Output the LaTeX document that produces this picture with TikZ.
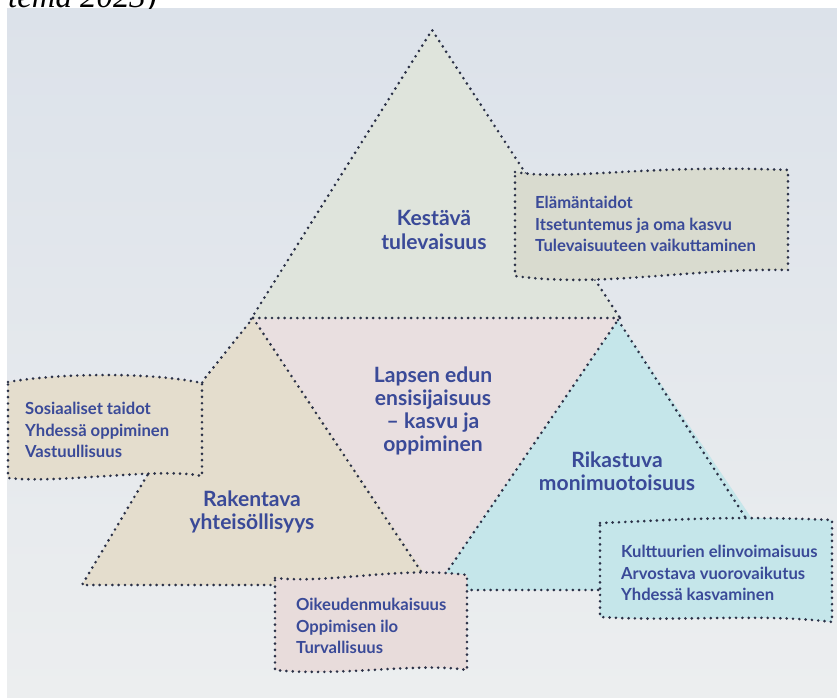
\documentclass[tikz,border=0pt]{standalone}
\usepackage{fontspec}
\setmainfont{Lato}
\newfontfamily\captionfont{Liberation Serif}

\definecolor{bgtop}{HTML}{DCE2EA}
\definecolor{bgbot}{HTML}{ECEEEF}
\definecolor{dotcol}{HTML}{2B3147}
\definecolor{txtcol}{HTML}{3A4A98}
\definecolor{topfill}{HTML}{DFE4DC}
\definecolor{topbox}{HTML}{D9DBCF}
\definecolor{midfill}{HTML}{E9DFE0}
\definecolor{leftfill}{HTML}{E4DDCD}
\definecolor{rightfill}{HTML}{C5E6EA}
\definecolor{botbox}{HTML}{E8DCDB}

\begin{document}
\begin{tikzpicture}[
x=0.03cm, y=-0.03cm,
dots/.style={draw=dotcol, line width=2.5pt, line cap=round, dash pattern=on 0pt off 5.4pt},
title/.style={font=\bfseries\fontsize{18}{19.8}\selectfont, text=txtcol, align=center},
items/.style={font=\bfseries\fontsize{14.2}{18.2}\selectfont, text=txtcol, align=left, anchor=west}
]
\useasboundingbox (0,0) rectangle (837,697);
\fill[white] (0,0) rectangle (837,697);
\shade[top color=bgtop, bottom color=bgbot] (7,8) rectangle (837,697);

% caption line cut off by the photo
\begin{scope}
\clip (0,0) rectangle (837,8);
\node[anchor=base west, inner sep=0pt, font=\captionfont\itshape\fontsize{28}{30}\selectfont] (caption) at (8,7) {tema 2023)};
\end{scope}

% triangles
\fill[topfill] (432,30) -- (620,318) -- (251,319) -- cycle;
\fill[midfill] (251,319) -- (620,318) -- (434,591) -- cycle;
\fill[leftfill] (253,318) -- (205,378) -- (148,474) -- (82,585) -- (432,585) -- cycle;
\fill[rightfill] (618,320) -- (800,590) -- (434,590) -- cycle;

\draw[dots] (251,319) -- (432,30) -- (620,318);
\draw[dots] (253,318) -- (620,318);
\draw[dots] (253,318) -- (434,591) -- (618,320);
\draw[dots] (253,318) -- (205,378) -- (148,474) -- (82,585) -- (300,585);
\draw[dots] (618,320) -- (760,540);
\draw[dots] (440,590) -- (610,590);

% boxes
\filldraw[dots, fill=topbox] (515,172) .. controls (565,181) and (650,164) .. (788,170)
  -- (788,270) .. controls (690,268) and (600,288) .. (515,276) -- cycle;
\filldraw[dots, fill=leftfill] (8,382) .. controls (60,373) and (150,372) .. (202,383)
  -- (202,476) .. controls (160,467) and (60,484) .. (8,478) -- cycle;
\filldraw[dots, fill=botbox] (275,578) .. controls (330,584) and (400,566) .. (467,575)
  -- (467,670) .. controls (420,662) and (340,677) .. (275,670) -- cycle;
\filldraw[dots, fill=rightfill] (600,523) .. controls (660,521) and (720,515) .. (832,520)
  -- (832,622) .. controls (760,613) and (680,622) .. (600,617) -- cycle;

% labels
\node[title] (kestava) at (434,230) {Kestävä\\tulevaisuus};
\node[title] (lapsen) at (433,411) {Lapsen edun\\ensisijaisuus\\– kasvu ja\\oppiminen};
\node[title] (rakentava) at (252,512) {Rakentava\\yhteisöllisyys};
\node[title] (rikastuva) at (617,471) {Rikastuva\\monimuotoisuus};

\node[items] (elama) at (531,224) {Elämäntaidot\\Itsetuntemus ja oma kasvu\\Tulevaisuuteen vaikuttaminen};
\node[items] (sosiaal) at (21,430) {Sosiaaliset taidot\\Yhdessä oppiminen\\Vastuullisuus};
\node[items] (oikeus) at (292,626) {Oikeudenmukaisuus\\Oppimisen ilo\\Turvallisuus};
\node[items] (kulttuuri) at (617,573) {Kulttuurien elinvoimaisuus\\Arvostava vuorovaikutus\\Yhdessä kasvaminen};

\end{tikzpicture}
\end{document}
